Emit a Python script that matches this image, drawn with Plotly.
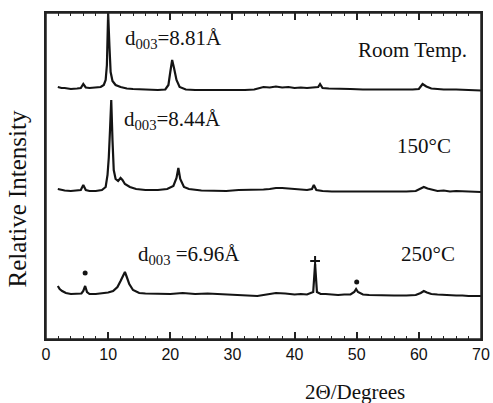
import plotly.graph_objects as go

# ---- data (2-theta in degrees, relative intensity in arbitrary stacked units) ----
x_room = [1.9, 2.5, 3, 4, 5, 5.6, 6.0, 6.4, 7, 8,
          8.8, 9.3, 9.6, 9.8, 10.0, 10.2, 10.4, 10.7, 11.2, 12,
          13, 14, 16, 18, 19.2, 19.7, 20.0, 20.3, 20.6, 21.0,
          21.5, 22.5, 24, 26, 28, 30, 32, 33.5, 34.3, 35,
          36, 37, 38, 39, 40, 41, 42, 43, 43.8, 44.1,
          44.5, 45.5, 47, 49, 51, 53, 55, 57, 59, 60,
          60.6, 61.2, 62, 63, 64, 66, 68, 70]
y_room = [252, 251, 251, 250, 250.5, 251, 255, 251.5, 251, 251.5,
          252, 254, 259, 274, 326, 294, 267, 258, 254, 252,
          250.5, 250, 249.5, 249, 249.5, 254, 267, 279, 271, 259,
          252, 249.5, 249, 249, 248.5, 249, 249, 249.5, 251, 252,
          251.5, 252.5, 251.5, 252, 251, 251.5, 251, 251.5, 252, 255,
          251, 250.5, 250, 250, 249.5, 249.5, 249, 249.5, 249.5, 250,
          255, 252.5, 250.5, 250, 249.5, 249.5, 249, 248.5]

x_150 = [1.9, 2.5, 3, 4, 5, 5.6, 6.0, 6.4, 7, 8,
         9, 9.6, 9.9, 10.1, 10.3, 10.5, 10.7, 10.9, 11.2, 11.6,
         12.0, 12.3, 12.7, 13.5, 14.5, 16, 18, 19.5, 20.5, 21.0,
         21.3, 21.6, 22.2, 23, 25, 27, 29, 31, 33, 35,
         36, 37, 38, 39, 40, 41, 42, 42.8, 43.1, 43.5,
         44.5, 46, 48, 50, 52, 54, 56, 58, 59.5, 60.3,
         60.8, 61.4, 62.2, 63, 64, 65, 66, 68, 70]
y_150 = [150, 149, 148.5, 148, 148.5, 149, 154, 149, 148, 148,
         149, 152, 164, 181, 209, 239, 199, 169, 160, 158,
         161, 159, 155, 152, 150, 149, 149, 150, 153, 161,
         171, 160, 152, 150, 148.5, 148, 148, 149, 149, 149.5,
         150, 151, 151, 150.5, 149.5, 149, 149, 150, 154, 149,
         148, 147.5, 147.5, 147.5, 147, 147.5, 147.5, 147.5, 148, 150,
         152, 150.5, 149, 148, 148.5, 147.5, 148, 147.5, 147]

x_250 = [1.9, 2.2, 2.6, 3.2, 4, 5, 5.7, 6.0, 6.3, 6.6,
         7, 8, 9, 10, 10.8, 11.5, 12.0, 12.4, 12.7, 13.0,
         13.4, 14, 15, 16, 18, 20, 22, 24, 26, 28,
         30, 32, 34, 35.5, 37, 38.5, 40, 41, 42, 43.0,
         43.3, 43.6, 44.2, 45, 46, 47, 48, 49, 49.6, 49.9,
         50.2, 51, 52, 54, 56, 58, 59.5, 60.3, 60.8, 61.3,
         62, 63, 64, 65, 66, 67, 68, 70]
y_250 = [53, 50, 48, 46, 45, 45, 45.5, 48, 53, 47,
         45, 45, 45.5, 46.5, 48, 52, 58, 63, 67, 62,
         55, 49, 46, 45.5, 45.5, 45, 46, 45, 45.5, 45,
         44.5, 43.5, 43, 44.5, 46, 45.5, 44.5, 45, 44.5, 47,
         75, 47, 45, 45, 44.5, 44, 44.5, 44.5, 47, 50,
         47, 44.5, 44, 43.5, 43.5, 43.5, 44, 46, 48, 46.5,
         45, 44.5, 44, 44, 43.5, 43.5, 43, 43]

# impurity markers on the 250 C pattern
x_dot = [6.3, 50.0]
y_dot = [66, 57]
x_star = [43.3]
y_star = [78]

label_texts = ["d<sub>003</sub>=8.81Å", "Room Temp.", "d<sub>003</sub>=8.44Å",
               "150°C", "d<sub>003</sub> =6.96Å", "250°C"]

x_range = [0, 70]
x_major_step = 10
x_minor_step = 2

line_color = "#141414"
serif = "Liberation Serif, Times New Roman, serif"

fig = go.Figure()
for xs, ys in [(x_room, y_room), (x_150, y_150), (x_250, y_250)]:
    fig.add_trace(go.Scatter(x=xs, y=ys, mode="lines",
                             line=dict(color=line_color, width=2.2),
                             showlegend=False))
fig.add_trace(go.Scatter(x=x_dot, y=y_dot, mode="markers",
                         marker=dict(symbol="circle", size=5, color=line_color),
                         showlegend=False))
fig.add_trace(go.Scatter(x=x_star, y=y_star, mode="markers",
                         marker=dict(symbol="cross-thin-open", size=7,
                                     color=line_color,
                                     line=dict(color=line_color, width=2)),
                         showlegend=False))

# label placement (positions only)
label_x = [20.45, 59.0, 20.3, 60.9, 23.0, 61.5]
label_y = [300, 289, 219, 193, 84, 85]
for txt, ax_, ay_ in zip(label_texts, label_x, label_y):
    fig.add_annotation(x=ax_, y=ay_, xref="x", yref="y", text=txt,
                       showarrow=False,
                       font=dict(family=serif, size=21, color="#111"),
                       xanchor="center", yanchor="middle")

fig.add_annotation(x=0.71, y=-0.12, xref="paper", yref="paper",
                   text="2Θ/Degrees", showarrow=False,
                   font=dict(family=serif, size=21, color="#111"),
                   xanchor="center", yanchor="top")
fig.add_annotation(x=-0.065, y=0.43, xref="paper", yref="paper",
                   text="Relative Intensity", showarrow=False, textangle=-90,
                   font=dict(family=serif, size=25, color="#111"),
                   xanchor="center", yanchor="middle")

# frame around the plotting area
fig.add_shape(type="rect", xref="paper", yref="paper", x0=0, x1=1, y0=0, y1=1,
              line=dict(color="#222", width=1.5), layer="above")

fig.update_xaxes(range=x_range, dtick=x_major_step, tick0=0,
                 ticks="inside", ticklen=7, tickwidth=2, tickcolor="#222",
                 minor=dict(dtick=x_minor_step, ticks="inside", ticklen=3,
                            tickwidth=1, tickcolor="#222"),
                 showline=True, linecolor="#222", linewidth=2, mirror="allticks",
                 showgrid=False, zeroline=False, ticklabeloverflow="allow",
                 tickfont=dict(family="Liberation Sans, Arial, sans-serif",
                               size=16, color="#111"))
fig.update_yaxes(range=[0, 326], showticklabels=False, ticks="",
                 showline=True, linecolor="#222", linewidth=2, mirror="all",
                 showgrid=False, zeroline=False)

fig.update_layout(width=493, height=403,
                  margin=dict(l=46, r=3, t=13, b=64),
                  paper_bgcolor="white", plot_bgcolor="white")

fig.write_html("out.html", config={"displayModeBar": False},
               post_script="document.body.style.margin='0';"
                           "document.body.style.overflow='hidden';")
